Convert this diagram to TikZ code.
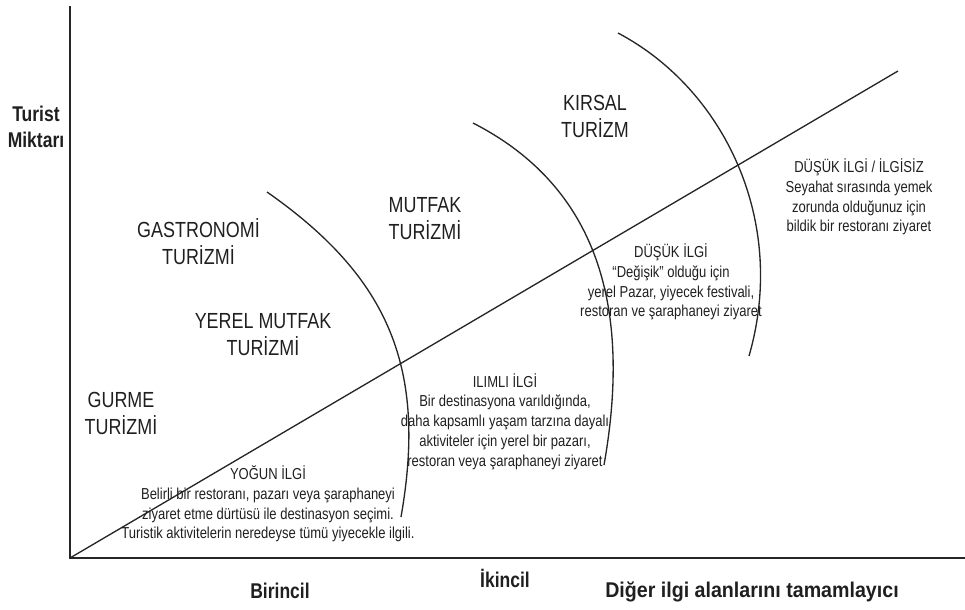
\documentclass[tikz,border=0pt]{standalone}
\usepackage{fontspec}
\setmainfont{Liberation Sans}[FakeStretch=0.82]
\newfontfamily\digerfont{Liberation Sans}[FakeStretch=0.92]
\begin{document}
\begin{tikzpicture}[x=0.75pt,y=-0.75pt,
  axisline/.style={line width=1.5pt, draw=black!85},
  thinline/.style={line width=1pt, draw=black!85},
  big/.style={font=\fontsize{16.4}{20.25}\selectfont, align=center, inner sep=0pt, text=black!88},
  small/.style={font=\fontsize{11.9}{14.8}\selectfont, align=center, inner sep=0pt, text=black!88},
  boldlbl/.style={font=\fontsize{16}{19.5}\selectfont\bfseries, align=center, inner sep=0pt, text=black!88}]
\useasboundingbox (0,0) rectangle (965,610);
% axes
\coordinate (O) at (70,558);
\coordinate (Ytop) at (70,6);
\coordinate (Xend) at (965,558);
\coordinate (D) at (898,71);
\draw[axisline] (Ytop) -- (O) -- (Xend);
\draw[thinline] (O) -- (D);
% arcs
\coordinate (a1s) at (267,192); \coordinate (a1e) at (401,517);
\coordinate (a2s) at (473,123); \coordinate (a2e) at (604,465);
\coordinate (a3s) at (618,33);  \coordinate (a3e) at (749,356);
\draw[thinline] (a1s) .. controls (390,278) and (427,369) .. (a1e);
\draw[thinline] (a2s) .. controls (598,187) and (632,307) .. (a2e);
\draw[thinline] (a3s) .. controls (724,89) and (788,221) .. (a3e);
% axis labels
\node[boldlbl] (ylab) at (36,127) {Turist\\Miktarı};
\node[boldlbl] (x1) at (280,591) {Birincil};
\node[boldlbl] (x2) at (505,578) {İkincil};
\node[boldlbl, font=\fontsize{16}{19.5}\digerfont\bfseries] (x3) at (752,592) {Diğer ilgi alanlarını tamamlayıcı};
% tourism types
\node[big] (gastro) at (198.5,241.5) {GASTRONOMİ\\TURİZMİ};
\node[big] (yerel) at (263,335) {YEREL MUTFAK\\TURİZMİ};
\node[big] (gurme) at (121,413.5) {GURME\\TURİZMİ};
\node[big] (mutfak) at (425,218.5) {MUTFAK\\TURİZMİ};
\node[big] (kirsal) at (595,116.5) {KIRSAL\\TURİZM};
% interest levels
\node[small] (ilgisiz) at (859,197) {DÜŞÜK İLGİ / İLGİSİZ\\Seyahat sırasında yemek\\zorunda olduğunuz için\\bildik bir restoranı ziyaret};
\node[small] (dusuk) at (671,282) {DÜŞÜK İLGİ\\“Değişik” olduğu için\\yerel Pazar, yiyecek festivali,\\restoran ve şaraphaneyi ziyaret};
\node[small] (ilimli) at (505,421.5) {ILIMLI İLGİ\\Bir destinasyona varıldığında,\\daha kapsamlı yaşam tarzına dayalı\\aktiviteler için yerel bir pazarı,\\restoran veya şaraphaneyi ziyaret};
\node[small] (yogun) at (268,504) {YOĞUN İLGİ\\Belirli bir restoranı, pazarı veya şaraphaneyi\\ziyaret etme dürtüsü ile destinasyon seçimi.\\Turistik aktivitelerin neredeyse tümü yiyecekle ilgili.};
\end{tikzpicture}
\end{document}
